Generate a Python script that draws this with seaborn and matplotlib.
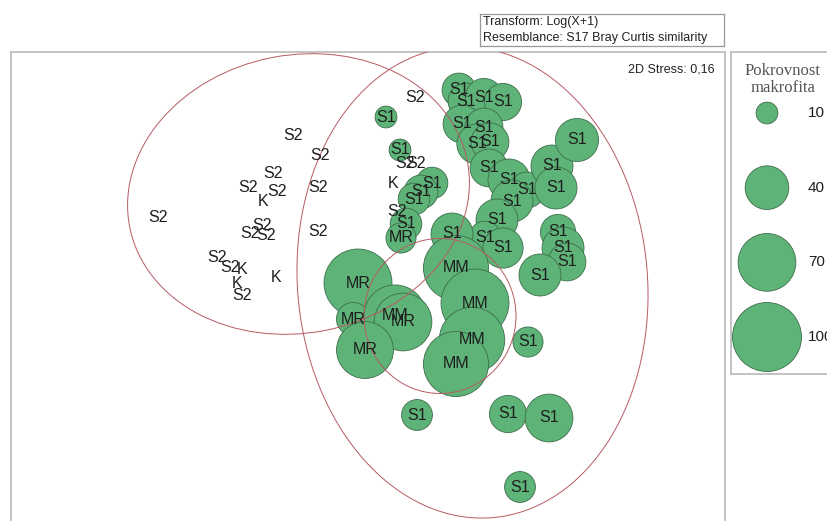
import pandas as pd
import numpy as np
import matplotlib
matplotlib.use("Agg")
import matplotlib.pyplot as plt
from matplotlib.patches import Ellipse
import seaborn as sns

sns.set_style("white")
plt.rcParams["font.family"] = ["Liberation Sans", "DejaVu Sans"]

# nMDS ordination (Log(X+1), Bray-Curtis), label = group, cover = pokrovnost makrofita (%)
labels = ["S2", "S2", "S2", "S2", "S2", "S2", "K", "S2", "S2", "S2", "S2", "S2",
          "S2", "S2", "S2", "K", "K", "S2", "K", "K", "S2", "S2", "S2",
          "S1", "S1", "S1", "S1", "S1", "S1", "MR",
          "S1", "S1", "S1", "S1", "S1", "S1", "S1", "S1",
          "S1", "S1", "S1", "S1", "S1", "S1", "S1", "S1",
          "S1", "S1", "S1", "S1", "S1", "S1", "S1",
          "MR", "MR", "MM", "MR", "MR", "MM", "MM", "MM", "MM",
          "S1", "S1", "S1", "S1", "S1"]
mds1 = [0.35, -0.87, -0.60, -1.07, -1.32, -1.03, -1.17, -0.62, -2.22, -1.18, -1.30, -1.14,
        -0.62, -1.63, -1.50, -1.38, -1.43, -1.38, -1.04, 0.13, 0.25, 0.36, 0.17,
        0.06, 0.20, 0.52, 0.41, 0.34, 0.26, 0.21,
        0.79, 0.86, 1.04, 1.23, 0.82, 1.04, 0.97, 1.10,
        1.09, 1.29, 1.47, 1.32, 1.17, 1.05, 1.23, 0.72,
        1.72, 1.76, 1.97, 1.78, 1.83, 1.87, 1.60,
        -0.22, -0.27, 0.15, 0.23, -0.15, 0.76, 0.95, 0.92, 0.76,
        1.48, 0.37, 1.28, 1.69, 1.40]
mds2 = [2.02, 1.64, 1.44, 1.27, 1.12, 1.09, 0.98, 1.13, 0.82, 0.75, 0.67, 0.65,
        0.69, 0.42, 0.32, 0.30, 0.17, 0.04, 0.23, 1.16, 1.37, 1.37, 0.89,
        1.83, 1.50, 1.17, 1.08, 1.01, 0.76, 0.62,
        2.10, 1.99, 2.03, 1.98, 1.76, 1.73, 1.56, 1.58,
        1.32, 1.20, 1.10, 0.99, 0.80, 0.63, 0.52, 0.66,
        1.34, 1.12, 1.60, 0.68, 0.52, 0.38, 0.25,
        0.17, -0.19, -0.16, -0.22, -0.50, 0.32, -0.03, -0.40, -0.64,
        -0.42, -1.15, -1.14, -1.18, -1.87]
cover = [0, 0, 0, 0, 0, 0, 0, 0, 0, 0, 0, 0,
         0, 0, 0, 0, 0, 0, 0, 0, 0, 0, 0,
         10, 10, 21, 24, 21, 21, 19,
         24, 27, 29, 29, 30, 30, 34, 30,
         30, 37, 27, 37, 37, 21, 34, 37,
         37, 37, 39, 26, 37, 30, 37,
         97, 23, 81, 70, 68, 89, 97, 90, 89,
         19, 20, 29, 48, 20]

legend_vals = [10, 40, 70, 100]

df = pd.DataFrame({"label": labels, "mds1": mds1, "mds2": mds2, "cover": cover})
bub = df[df["cover"] > 0]

GREEN = "#5eb378"
EDGE = "#3d6e4b"
CONTOUR = "#b65a62"
FRAME = "#b8b8b8"
SIZES = (0, 2468)

fig = plt.figure(figsize=(8.28, 5.21), dpi=100)
W, H = 828, 521

# main ordination panel (bottom runs off the figure, like the source)
ax = fig.add_axes([11 / W, (H - 540) / H, 714 / W, 488 / H])
sns.scatterplot(data=bub, x="mds1", y="mds2", size="cover", sizes=SIZES,
                size_norm=(0, 100), color=GREEN, edgecolor=EDGE, linewidth=0.6,
                alpha=1, legend=False, ax=ax, zorder=2)

# similarity contours
for cx, cy, w, h, ang in [(-0.815, 1.06, 3.44, 2.78, 11),
                          (0.925, 0.175, 3.50, 4.72, 5),
                          (0.60, -0.16, 1.52, 1.55, 0)]:
    ax.add_patch(Ellipse((cx, cy), w, h, angle=ang, fill=False,
                         edgecolor=CONTOUR, linewidth=0.7, zorder=3))

for _, r in df.iterrows():
    ax.text(r["mds1"], r["mds2"], r["label"], ha="center", va="center",
            fontsize=11.5, color="#1e1e1e", zorder=4)

ax.set_xlim(-3.69, 3.45)
ax.set_ylim(-2.40, 2.48)
ax.set_xticks([])
ax.set_yticks([])
ax.set_xlabel("")
ax.set_ylabel("")
for s in ax.spines.values():
    s.set_color(FRAME)
    s.set_linewidth(1.2)
ax.text(0.986, 0.977, "2D Stress: 0,16", transform=ax.transAxes, ha="right",
        va="top", fontsize=9, color="#222222")

# transform / resemblance box
tb = fig.add_axes([480 / W, (H - 46) / H, 244 / W, 32 / H])
tb.set_xticks([])
tb.set_yticks([])
for s in tb.spines.values():
    s.set_color("#999999")
    s.set_linewidth(0.9)
tb.text(0.012, 0.74, "Transform: Log(X+1)", transform=tb.transAxes,
        va="center", fontsize=9, color="#222222")
tb.text(0.012, 0.26, "Resemblance: S17 Bray Curtis similarity", transform=tb.transAxes,
        va="center", fontsize=9, color="#222222")

# bubble size legend
lg = fig.add_axes([731 / W, (H - 374) / H, 104 / W, 322 / H])
leg_df = pd.DataFrame({"x": [0.346] * len(legend_vals),
                       "y": list(range(len(legend_vals))),
                       "cover": legend_vals})
sns.scatterplot(data=leg_df, x="x", y="y", size="cover", sizes=SIZES,
                size_norm=(0, 100), color=GREEN, edgecolor=EDGE, linewidth=0.6,
                alpha=1, legend=False, ax=lg, zorder=2)
for i, v in enumerate(legend_vals):
    lg.text(0.74, i, str(v), va="center", ha="left", fontsize=11, color="#1e1e1e")
lg.text(0.5, 0.965, "Pokrovnost\nmakrofita", transform=lg.transAxes, ha="center",
        va="top", fontsize=12, color="#555555", linespacing=1.1,
        family=["Liberation Serif", "DejaVu Serif"])
lg.set_xlim(0, 1)
lg.set_ylim(3.495, -0.817)
lg.set_xticks([])
lg.set_yticks([])
lg.set_xlabel("")
lg.set_ylabel("")
for s in lg.spines.values():
    s.set_color(FRAME)
    s.set_linewidth(1.2)

fig.savefig("out.png", dpi=100)
